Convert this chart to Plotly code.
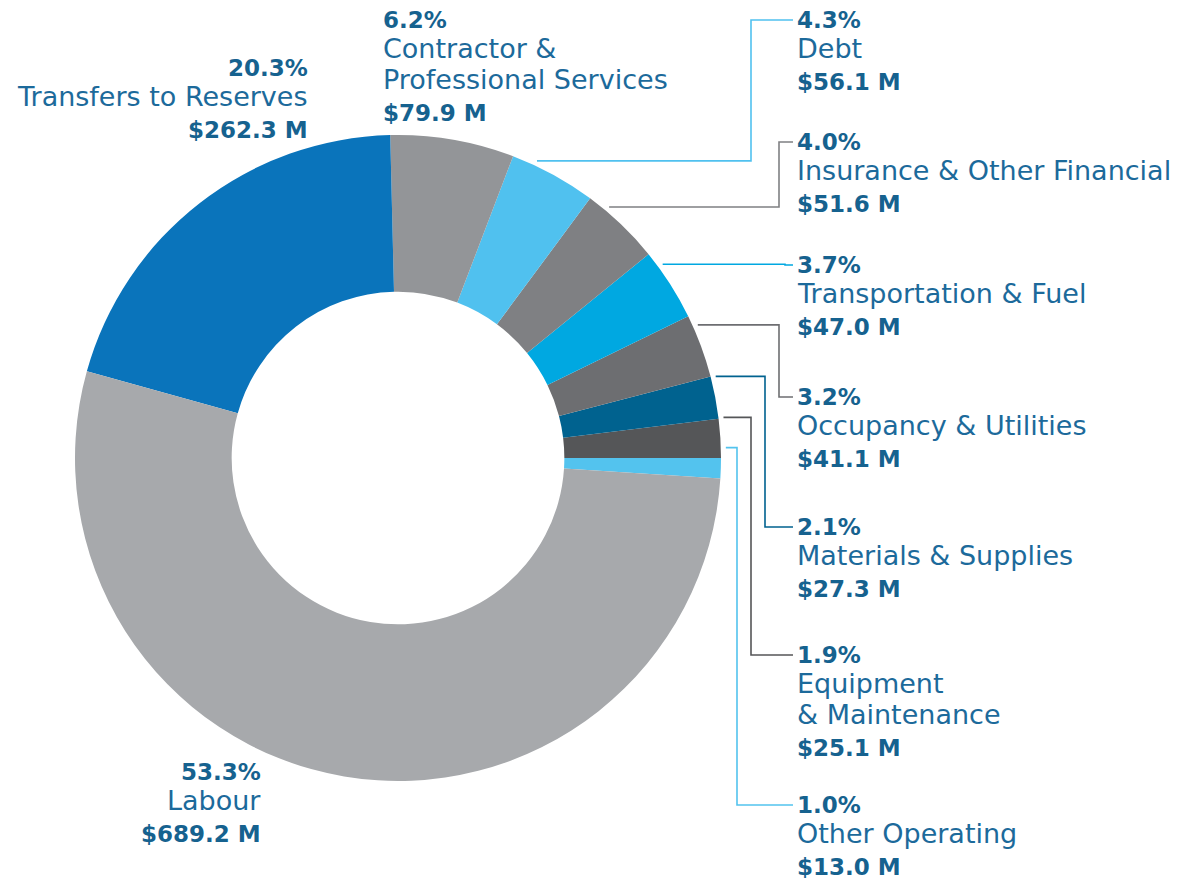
import math
import plotly.graph_objects as go

# budget by category, listed counterclockwise starting at 3 o'clock
categories = ["Other Operating", "Equipment & Maintenance", "Materials & Supplies",
              "Occupancy & Utilities", "Transportation & Fuel", "Insurance & Other Financial",
              "Debt", "Contractor & Professional Services", "Transfers to Reserves", "Labour"]
values = [13.0, 25.1, 27.3, 41.1, 47.0, 51.6, 56.1, 79.9, 262.3, 689.2]
percent_labels = ["1.0%", "1.9%", "2.1%", "3.2%", "3.7%", "4.0%", "4.3%", "6.2%", "20.3%", "53.3%"]
value_labels = ["$%.1f M" % v for v in values]

colors = ["#53c3ee", "#555658", "#00628f", "#6d6e71", "#00a8e1",
          "#7f8083", "#50c1ef", "#939598", "#0a74bb", "#a7a9ac"]

# how the category names wrap in the labels
wrap = {"Equipment & Maintenance": ["Equipment", "& Maintenance"],
        "Contractor & Professional Services": ["Contractor &", "Professional Services"]}

W, H = 1191, 881
cx, cy, R = 398, 458, 323
HOLE = 0.515
FONT = "DejaVu Sans"
FS = 27       # regular lines
FS_B = 23     # bold lines
TXT = "#1c6a9b"
TXT_B = "#16628f"

# label placement in pixels: x, first-line y, anchor, leader elbow x (None = no leader)
label_pos = {
    "Other Operating": (797, 805, "left", 737),
    "Equipment & Maintenance": (797, 655, "left", 751),
    "Materials & Supplies": (797, 527, "left", 765),
    "Occupancy & Utilities": (797, 397, "left", 779),
    "Transportation & Fuel": (797, 265, "left", 785),
    "Insurance & Other Financial": (797, 142, "left", 779),
    "Debt": (797, 20, "left", 751),
    "Contractor & Professional Services": (383, 20, "left", None),
    "Transfers to Reserves": (310, 68, "right", None),
    "Labour": (263, 772, "right", None),
}


def px(x):
    return x / W


def py(y):
    return 1 - y / H


fig = go.Figure(go.Pie(
    labels=categories, values=values, sort=False,
    direction="counterclockwise", rotation=90, hole=HOLE,
    marker=dict(colors=colors, line=dict(width=0)),
    textinfo="none", hoverinfo="label+value+percent", showlegend=False,
    domain=dict(x=[px(cx - R), px(cx + R)], y=[py(cy + R), py(cy - R)]),
))

annotations = []
shapes = []
total = sum(values)
cum = 0
for i, cat in enumerate(categories):
    x, y0, anchor, elbow = label_pos[cat]
    ax = x - 2 if anchor == "left" else x
    names = wrap.get(cat, [cat])
    rows = [("<b>%s</b>" % percent_labels[i], TXT_B, FS_B, y0)]
    for k, s in enumerate(names):
        rows.append((s, TXT, FS, y0 + 28.5 + 30.6 * k))
    rows.append(("<b>%s</b>" % value_labels[i], TXT_B, FS_B, rows[-1][3] + 33.5))
    for txt, col, size, yy in rows:
        annotations.append(dict(
            x=px(ax), y=py(yy), xref="paper", yref="paper",
            text=txt, showarrow=False, xanchor=anchor, yanchor="middle",
            font=dict(family=FONT, size=size, color=col)))

    mid = (cum + values[i] / 2) / total * 2 * math.pi
    cum += values[i]
    if elbow is None:
        continue
    sx = cx + (R + 5) * math.cos(mid)
    sy = cy - (R + 5) * math.sin(mid)
    path = "M %f,%f L %f,%f L %f,%f L %f,%f" % (
        px(sx), py(sy), px(elbow), py(sy), px(elbow), py(y0), px(x - 4), py(y0))
    shapes.append(dict(type="path", path=path, xref="paper", yref="paper",
                       line=dict(color=colors[i], width=1.6)))

fig.update_layout(
    width=W, height=H, margin=dict(l=0, r=0, t=0, b=0),
    paper_bgcolor="white", plot_bgcolor="white",
    annotations=annotations, shapes=shapes,
)

# drop the page's default 8px body margin so pixel positions line up
fig.write_html("out.html", config={"displayModeBar": False},
               post_script="document.body.style.margin='0';")
